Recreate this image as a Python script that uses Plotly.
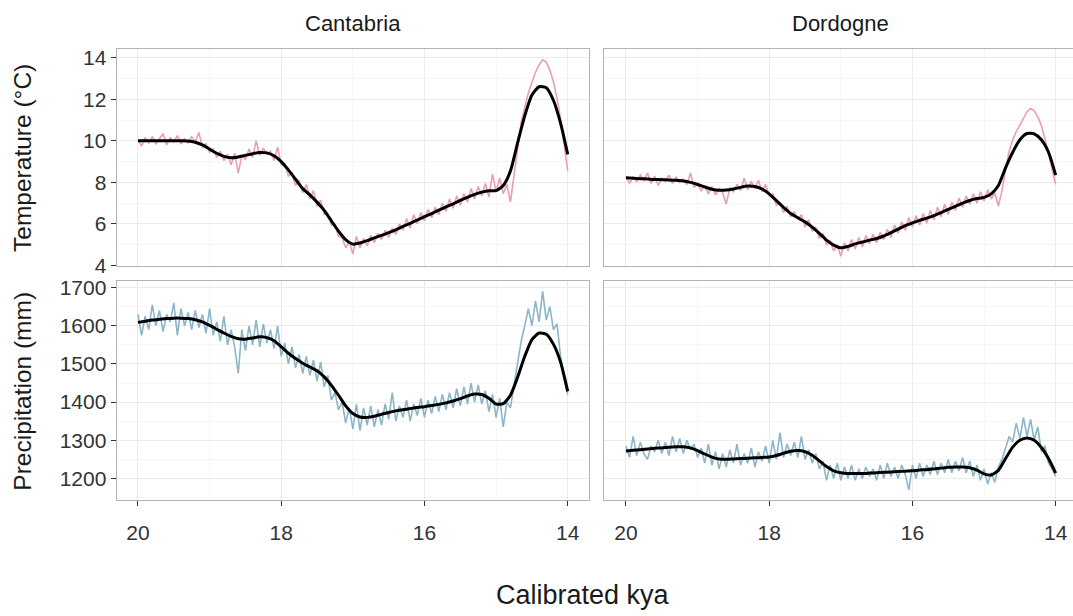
import plotly.graph_objects as go

# ---- data -----------------------------------------------------------------
# reconstructed series, sampled every 50 years between 20 and 14 kya
kya = [round(20 - 0.05 * i, 2) for i in range(121)]
# smoothed fits, sampled every 100 years
kya_fit = [round(20 - 0.1 * i, 1) for i in range(61)]

cantabria_temp = [
    10.05, 9.75, 10.15, 9.90, 10.20, 9.85, 10.10, 10.35, 9.80, 10.15,
    9.95, 10.25, 9.85, 10.10, 9.90, 10.20, 9.95, 10.40, 9.70, 9.85,
    9.45, 9.60, 9.20, 9.50, 9.05, 9.35, 8.85, 9.40, 8.45, 9.30,
    9.10, 9.60, 9.20, 10.00, 9.30, 9.65, 9.35, 9.50, 9.05, 9.70,
    8.85, 8.90, 8.30, 8.45, 7.85, 8.10, 7.50, 7.90, 7.20, 7.60,
    6.85, 7.15, 6.45, 6.50, 5.95, 6.00, 5.40, 5.35, 4.85, 5.15,
    4.55, 5.40, 4.85, 5.30, 4.95, 5.45, 5.10, 5.55, 5.25, 5.70,
    5.35, 5.80, 5.50, 6.00, 5.70, 6.25, 5.80, 6.45, 6.00, 6.55,
    6.15, 6.70, 6.30, 6.80, 6.45, 7.00, 6.60, 7.20, 6.75, 7.35,
    6.90, 7.45, 7.05, 7.70, 7.20, 7.80, 7.35, 7.95, 7.30, 8.40,
    7.55, 8.20, 7.45, 7.90, 7.05, 8.35, 9.60, 10.90, 11.60, 12.30,
    12.80, 13.30, 13.65, 13.90, 13.80, 13.40, 12.85, 12.05, 11.05, 9.90,
    8.55,
]
dordogne_temp = [
    8.30, 7.95, 8.25, 8.05, 8.35, 8.10, 8.45, 7.95, 8.30, 7.85,
    8.20, 8.05, 8.35, 7.95, 8.25, 8.00, 8.15, 7.90, 8.45, 7.75,
    7.95, 7.60, 7.85, 7.45, 7.80, 7.40, 7.70, 7.50, 6.95, 7.75,
    7.55, 7.90, 7.60, 8.20, 7.65, 8.05, 7.70, 8.10, 7.55, 7.90,
    7.35, 7.45, 6.90, 7.00, 6.55, 6.85, 6.35, 6.60, 6.20, 6.45,
    5.85, 6.20, 5.65, 5.85, 5.30, 5.55, 5.00, 5.20, 4.70, 5.00,
    4.45, 5.10, 4.70, 5.25, 4.80, 5.35, 4.90, 5.45, 5.05, 5.50,
    5.10, 5.60, 5.25, 5.75, 5.35, 5.95, 5.55, 6.10, 5.70, 6.30,
    5.85, 6.40, 5.95, 6.50, 6.05, 6.65, 6.20, 6.80, 6.35, 6.95,
    6.45, 7.05, 6.65, 7.25, 6.80, 7.35, 6.95, 7.45, 7.00, 7.55,
    7.10, 7.65, 7.20, 7.50, 6.85, 7.60, 8.60, 9.50, 10.05, 10.45,
    10.75, 11.10, 11.40, 11.55, 11.45, 11.15, 10.75, 10.10, 9.40, 8.60,
    7.90,
]
cantabria_prec = [
    1630, 1575, 1625, 1590, 1655, 1600, 1640, 1585, 1630, 1610,
    1660, 1575, 1645, 1600, 1635, 1590, 1640, 1595, 1630, 1580,
    1645, 1575, 1610, 1560, 1625, 1550, 1590, 1545, 1475, 1590,
    1535, 1600, 1550, 1615, 1545, 1605, 1555, 1590, 1540, 1600,
    1520, 1555, 1500, 1545, 1490, 1525, 1475, 1520, 1470, 1510,
    1455, 1505, 1440, 1470, 1405, 1425, 1380, 1400, 1345, 1385,
    1330, 1395, 1325, 1385, 1340, 1390, 1335, 1380, 1340, 1395,
    1355, 1425, 1350, 1390, 1360, 1405, 1350, 1395, 1365, 1410,
    1360, 1405, 1370, 1415, 1375, 1420, 1380, 1425, 1385, 1435,
    1390, 1440, 1395, 1450, 1400, 1445, 1395, 1430, 1375, 1420,
    1360, 1410, 1335, 1400, 1385, 1440, 1500, 1560, 1600, 1645,
    1600, 1665, 1610, 1690, 1615, 1650, 1590, 1605, 1520, 1460,
    1420,
]
dordogne_prec = [
    1285, 1255, 1310, 1260, 1295, 1265, 1250, 1285, 1270, 1300,
    1265, 1295, 1260, 1310, 1270, 1305, 1265, 1300, 1275, 1290,
    1255, 1280, 1240, 1290, 1235, 1270, 1225, 1265, 1230, 1275,
    1240, 1290, 1235, 1265, 1240, 1280, 1230, 1270, 1245, 1285,
    1240, 1300, 1250, 1320, 1255, 1290, 1260, 1295, 1255, 1310,
    1250, 1275, 1240, 1265, 1225, 1245, 1195, 1235, 1200, 1240,
    1195, 1230, 1200, 1235, 1195, 1225, 1200, 1230, 1205, 1225,
    1195, 1235, 1200, 1240, 1205, 1230, 1200, 1235, 1210, 1170,
    1235, 1200, 1240, 1205, 1235, 1210, 1245, 1210, 1240, 1215,
    1250, 1215, 1245, 1220, 1255, 1215, 1245, 1205, 1235, 1195,
    1225, 1185, 1215, 1190, 1230, 1250, 1280, 1310, 1295, 1345,
    1305, 1360, 1310, 1355, 1300, 1335, 1270, 1285, 1240, 1225,
    1205,
]

cantabria_temp_fit = [
    10.00, 10.00, 10.00, 10.00, 10.00, 10.00, 10.00, 9.99, 9.93, 9.80,
    9.60, 9.40, 9.25, 9.18, 9.22, 9.30, 9.38, 9.44, 9.42, 9.28,
    9.00, 8.60, 8.15, 7.70, 7.40, 7.05, 6.65, 6.15, 5.65, 5.25,
    5.03, 5.08, 5.20, 5.33, 5.45, 5.58, 5.72, 5.88, 6.03, 6.19,
    6.35, 6.50, 6.66, 6.82, 6.97, 7.13, 7.28, 7.42, 7.53, 7.60,
    7.60, 7.85, 8.55, 9.90, 11.20, 12.20, 12.60, 12.55, 11.95, 10.85,
    9.35,
]
dordogne_temp_fit = [
    8.22, 8.20, 8.18, 8.16, 8.14, 8.13, 8.12, 8.10, 8.07, 8.00,
    7.90, 7.78, 7.67, 7.62, 7.63, 7.68, 7.76, 7.82, 7.80, 7.68,
    7.45, 7.12, 6.80, 6.50, 6.30, 6.10, 5.85, 5.55, 5.22, 4.98,
    4.85, 4.92, 5.04, 5.13, 5.22, 5.30, 5.42, 5.58, 5.75, 5.92,
    6.05, 6.17, 6.28, 6.40, 6.55, 6.70, 6.85, 7.00, 7.13, 7.22,
    7.28, 7.45, 7.85, 8.70, 9.45, 10.05, 10.35, 10.33, 10.05, 9.45,
    8.35,
]
cantabria_prec_fit = [
    1609, 1612, 1615, 1617, 1619, 1620, 1620, 1619, 1616, 1610,
    1601, 1591, 1581, 1572, 1566, 1565, 1568, 1571, 1569, 1561,
    1545, 1528, 1514, 1502, 1492, 1482, 1466, 1444, 1418, 1390,
    1370, 1361, 1360, 1363, 1368, 1373, 1377, 1380, 1383, 1386,
    1388, 1391, 1394, 1398, 1403, 1409, 1416, 1421, 1420, 1410,
    1395, 1396, 1418, 1465, 1520, 1564, 1581, 1578, 1552, 1505,
    1428,
]
dordogne_prec_fit = [
    1272, 1274, 1275, 1277, 1279, 1280, 1282, 1283, 1283, 1280,
    1273, 1264, 1256, 1251, 1250, 1251, 1252, 1253, 1254, 1255,
    1256, 1260, 1266, 1271, 1273, 1270, 1261, 1246, 1231, 1220,
    1215, 1213, 1213, 1213, 1214, 1215, 1216, 1217, 1218, 1219,
    1220, 1222, 1223, 1225, 1227, 1229, 1230, 1230, 1228, 1222,
    1212, 1209, 1221, 1252, 1282, 1300, 1306, 1300, 1281, 1252,
    1214,
]

sites = ["Cantabria", "Dordogne"]
x_ticks = [20, 18, 16, 14]
x_minor = [19, 17, 15]
temp_ticks = [4, 6, 8, 10, 12, 14]
temp_minor = [5, 7, 9, 11, 13]
prec_ticks = [1200, 1300, 1400, 1500, 1600, 1700]
prec_minor = [1150, 1250, 1350, 1450, 1550, 1650]

# ---- styling --------------------------------------------------------------
W, H = 1073, 616
FONT = "Liberation Sans, Arial, Helvetica, sans-serif"
PINK = "#E8A0B1"
BLUE = "#8CB6C7"
BORDER = "#B3B3B3"
GRID = "#EBEBEB"
GRID_MINOR = "#F6F6F6"
TEXT = "#333333"
TITLE = "#1A1A1A"

def px_x(p):
    return p / W

def px_y(p):
    return 1 - p / H

col_dom = [[px_x(116.7), px_x(589)], [px_x(604), 1.0]]
row_dom = [[px_y(268), px_y(45)], [px_y(508), px_y(283.5)]]
x_ranges = [[20.297, 13.703], [20.307, 13.758]]
y_ranges = [[3.975, 14.425], [1144, 1717]]

fig = go.Figure()

panels = [
    (0, 0, cantabria_temp, cantabria_temp_fit, PINK),
    (0, 1, dordogne_temp, dordogne_temp_fit, PINK),
    (1, 0, cantabria_prec, cantabria_prec_fit, BLUE),
    (1, 1, dordogne_prec, dordogne_prec_fit, BLUE),
]

layout = {}
for k, (r, c, raw, fit, colour) in enumerate(panels, start=1):
    xa, ya = f"x{k}", f"y{k}"
    fig.add_trace(go.Scatter(x=kya, y=raw, mode="lines", xaxis=xa, yaxis=ya,
                             line=dict(color=colour, width=1.6),
                             hoverinfo="skip", showlegend=False))
    fig.add_trace(go.Scatter(x=kya_fit, y=fit, mode="lines", xaxis=xa, yaxis=ya,
                             line=dict(color="black", width=3, shape="spline",
                                       smoothing=0.6),
                             showlegend=False))
    bottom = r == 1
    left = c == 0
    layout[f"xaxis{k}"] = dict(
        domain=col_dom[c], anchor=ya, range=x_ranges[c],
        tickvals=x_ticks, ticktext=[str(v) for v in x_ticks],
        showticklabels=bottom, ticks="outside" if bottom else "",
        ticklen=5, tickwidth=1.2, tickcolor=TEXT, ticklabelstandoff=9,
        tickfont=dict(family=FONT, size=21, color=TEXT),
        showgrid=True, gridcolor=GRID, gridwidth=1.1,
        minor=dict(tickvals=x_minor, showgrid=True, gridcolor=GRID_MINOR,
                   gridwidth=1, ticks=""),
        showline=True, linecolor=BORDER, linewidth=1.3, mirror=True,
        zeroline=False, fixedrange=True,
    )
    yt = temp_ticks if r == 0 else prec_ticks
    ym = temp_minor if r == 0 else prec_minor
    layout[f"yaxis{k}"] = dict(
        domain=row_dom[r], anchor=xa, range=y_ranges[r],
        tickvals=yt, ticktext=[str(v) for v in yt],
        showticklabels=left, ticks="outside" if left else "",
        ticklen=5, tickwidth=1.2, tickcolor=TEXT,
        tickfont=dict(family=FONT, size=21, color=TEXT),
        showgrid=True, gridcolor=GRID, gridwidth=1.1,
        minor=dict(tickvals=ym, showgrid=True, gridcolor=GRID_MINOR,
                   gridwidth=1, ticks=""),
        showline=True, linecolor=BORDER, linewidth=1.3, mirror=left,
        zeroline=False, fixedrange=True,
    )

annotations = []
for c, name in enumerate(sites):
    cx = (col_dom[c][0] + (col_dom[c][1] if c == 0 else px_x(1076))) / 2
    annotations.append(dict(text=name, x=cx, y=px_y(19), xref="paper", yref="paper",
                            showarrow=False, xanchor="center", yanchor="middle",
                            font=dict(family=FONT, size=22, color=TITLE)))
annotations.append(dict(text="Temperature (°C)", x=px_x(23), y=px_y(157),
                        xref="paper", yref="paper", textangle=-90, showarrow=False,
                        xanchor="center", yanchor="middle",
                        font=dict(family=FONT, size=24.5, color=TITLE)))
annotations.append(dict(text="Precipitation (mm)", x=px_x(23), y=px_y(397),
                        xref="paper", yref="paper", textangle=-90, showarrow=False,
                        xanchor="center", yanchor="middle",
                        font=dict(family=FONT, size=24.5, color=TITLE)))
annotations.append(dict(text="Calibrated kya", x=px_x(583), y=px_y(606),
                        xref="paper", yref="paper", showarrow=False,
                        xanchor="center", yanchor="middle",
                        font=dict(family=FONT, size=27, color=TITLE)))

fig.update_layout(
    width=W, height=H,
    margin=dict(l=0, r=0, t=0, b=0),
    paper_bgcolor="white", plot_bgcolor="white",
    annotations=annotations,
    showlegend=False,
    **layout,
)

fig.write_html("out.html", config={"displayModeBar": False})
